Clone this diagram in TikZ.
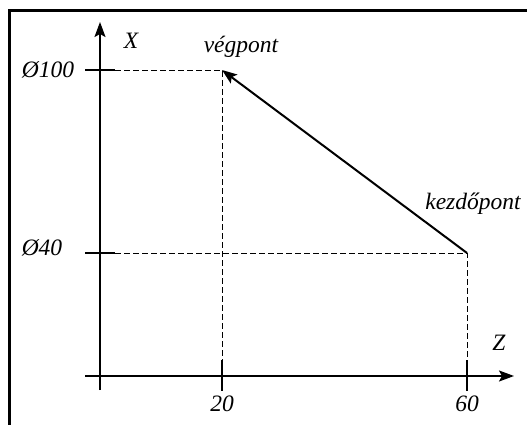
\documentclass[tikz,border=0pt]{standalone}
\usepackage{fontspec}
\setmainfont{Liberation Serif}
\usetikzlibrary{arrows.meta}
\begin{document}
\begin{tikzpicture}[x=1pt,y=-1pt,
  axis/.style={line width=1.8pt,-{Stealth[length=15pt,width=11pt,inset=3pt]}},
  tick/.style={line width=1.8pt},
  guide/.style={line width=0.8pt,dash pattern=on 6pt off 3pt},
  path/.style={line width=2pt,-{Stealth[length=15pt,width=11pt,inset=3pt]}},
  lbl/.style={font=\fontsize{23.5}{26}\selectfont\itshape,inner sep=0pt}]
\useasboundingbox (0,0) rectangle (527,425);
\draw[line width=3.5pt] (9.5,425) -- (9.5,10.5) -- (527,10.5);
% coordinates
\coordinate (xbot) at (100,390);
\coordinate (xtop) at (100,22);
\coordinate (zl) at (85,376);
\coordinate (zr) at (514,376);
\coordinate (e) at (222,70);
\coordinate (s) at (467,253);
% axes
\draw[axis] (xbot) -- (xtop);
\draw[axis] (zl) -- (zr);
% ticks
\draw[tick] (85,70) -- (115,70);
\draw[tick] (85,253) -- (115,253);
\draw[tick] (222,360) -- (222,391);
\draw[tick] (467,360) -- (467,391);
% guides
\draw[guide] (115,70) -- (e) -- (222,360);
\draw[guide] (115,253) -- (s) -- (467,360);
% tool path
\draw[path] (s) -- (e);
% labels
\node[lbl] (lx) at (131,41) {X};
\node[lbl] (lz) at (499,343) {Z};
\node[lbl] (l100) at (48,70) {Ø100};
\node[lbl] (l40) at (42,248) {Ø40};
\node[lbl] (l20) at (222,404) {20};
\node[lbl] (l60) at (467,404) {60};
\node[lbl] (lv) at (241,47) {végpont};
\node[lbl] (lk) at (473,204) {kezdőpont};
\end{tikzpicture}
\end{document}
